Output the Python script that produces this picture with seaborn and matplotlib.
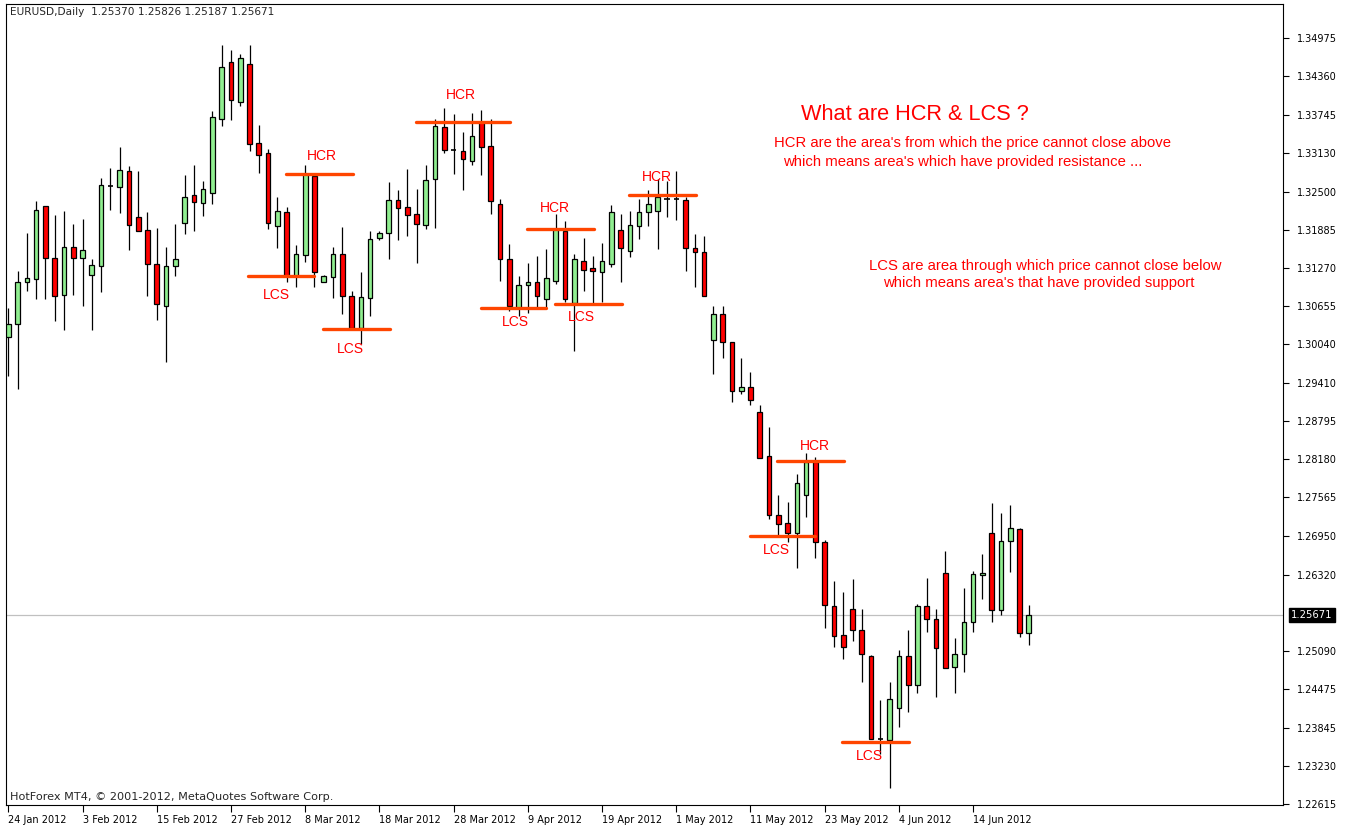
import numpy as np
import matplotlib
matplotlib.use("Agg")
import matplotlib.pyplot as plt
import seaborn as sns

# EURUSD daily candles, 24 Jan 2012 - 22 Jun 2012
opens = [1.3015, 1.3037, 1.3105, 1.3109, 1.3227, 1.3143, 1.3083, 1.3160, 1.3143, 1.3116,
         1.3130, 1.3259, 1.3257, 1.3284, 1.3209, 1.3188, 1.3133, 1.3066, 1.3130, 1.3199,
         1.3245, 1.3231, 1.3248, 1.3368, 1.3460, 1.3394, 1.3456, 1.3328, 1.3312, 1.3195,
         1.3217, 1.3114, 1.3148, 1.3275, 1.3105, 1.3113, 1.3149, 1.3082, 1.3030, 1.3079,
         1.3175, 1.3183, 1.3237, 1.3225, 1.3214, 1.3197, 1.3270, 1.3355, 1.3317, 1.3316,
         1.3300, 1.3362, 1.3323, 1.3230, 1.3141, 1.3063, 1.3100, 1.3105, 1.3077, 1.3106,
         1.3187, 1.3070, 1.3138, 1.3127, 1.3120, 1.3133, 1.3188, 1.3155, 1.3194, 1.3218,
         1.3219, 1.3238, 1.3238, 1.3237, 1.3159, 1.3152, 1.3010, 1.3052, 1.3007, 1.2929,
         1.2935, 1.2894, 1.2823, 1.2728, 1.2716, 1.2699, 1.2761, 1.2813, 1.2685, 1.2581,
         1.2534, 1.2576, 1.2542, 1.2501, 1.2366, 1.2365, 1.2416, 1.2500, 1.2453, 1.2581,
         1.2561, 1.2635, 1.2483, 1.2504, 1.2556, 1.2631, 1.2699, 1.2575, 1.2686, 1.2706,
         1.25370]
highs = [1.3063, 1.3122, 1.3184, 1.3235, 1.3227, 1.3212, 1.3219, 1.3198, 1.3206, 1.3142,
         1.3272, 1.3289, 1.3322, 1.3292, 1.3284, 1.3217, 1.3191, 1.3160, 1.3198, 1.3277,
         1.3293, 1.3268, 1.3380, 1.3487, 1.3479, 1.3472, 1.3487, 1.3357, 1.3319, 1.3241,
         1.3225, 1.3164, 1.3293, 1.3278, 1.3115, 1.3160, 1.3193, 1.3090, 1.3120, 1.3187,
         1.3186, 1.3265, 1.3252, 1.3287, 1.3254, 1.3293, 1.3368, 1.3385, 1.3375, 1.3347,
         1.3377, 1.3382, 1.3368, 1.3239, 1.3165, 1.3114, 1.3135, 1.3146, 1.3157, 1.3214,
         1.3203, 1.3149, 1.3175, 1.3147, 1.3167, 1.3228, 1.3214, 1.3219, 1.3238, 1.3252,
         1.3270, 1.3268, 1.3284, 1.3241, 1.3181, 1.3179, 1.3066, 1.3066, 1.3007, 1.2981,
         1.2959, 1.2905, 1.2870, 1.2760, 1.2749, 1.2795, 1.2828, 1.2822, 1.2687, 1.2621,
         1.2604, 1.2625, 1.2576, 1.2502, 1.2429, 1.2459, 1.2511, 1.2542, 1.2585, 1.2626,
         1.2576, 1.2670, 1.2529, 1.2611, 1.2638, 1.2665, 1.2748, 1.2732, 1.2745, 1.2707,
         1.25826]
lows = [1.2953, 1.2932, 1.3090, 1.3077, 1.3077, 1.3042, 1.3026, 1.3084, 1.3066, 1.3026,
        1.3088, 1.3221, 1.3216, 1.3156, 1.3186, 1.3081, 1.3043, 1.2975, 1.3114, 1.3182,
        1.3186, 1.3210, 1.3230, 1.3356, 1.3366, 1.3388, 1.3315, 1.3281, 1.3189, 1.3159,
        1.3104, 1.3096, 1.3136, 1.3096, 1.3104, 1.3078, 1.3053, 1.3028, 1.3004, 1.3049,
        1.3172, 1.3141, 1.3172, 1.3179, 1.3135, 1.3190, 1.3191, 1.3313, 1.3278, 1.3252,
        1.3293, 1.3277, 1.3214, 1.3106, 1.3058, 1.3050, 1.3054, 1.3063, 1.3063, 1.3101,
        1.3072, 1.2993, 1.3090, 1.3069, 1.3072, 1.3128, 1.3104, 1.3144, 1.3174, 1.3195,
        1.3157, 1.3209, 1.3204, 1.3122, 1.3096, 1.3081, 1.2956, 1.2981, 1.2910, 1.2924,
        1.2905, 1.2820, 1.2721, 1.2695, 1.2685, 1.2643, 1.2725, 1.2658, 1.2545, 1.2515,
        1.2496, 1.2524, 1.2459, 1.2366, 1.2343, 1.2288, 1.2386, 1.2410, 1.2440, 1.2539,
        1.2434, 1.2481, 1.2441, 1.2474, 1.2540, 1.2592, 1.2555, 1.2567, 1.2636, 1.2531,
        1.25187]
closes = [1.3037, 1.3105, 1.3110, 1.3220, 1.3143, 1.3081, 1.3160, 1.3143, 1.3156, 1.3131,
          1.3261, 1.3259, 1.3285, 1.3197, 1.3187, 1.3133, 1.3068, 1.3130, 1.3141, 1.3242,
          1.3234, 1.3254, 1.3370, 1.3451, 1.3398, 1.3466, 1.3327, 1.3310, 1.3199, 1.3219,
          1.3114, 1.3149, 1.3278, 1.3121, 1.3114, 1.3149, 1.3081, 1.3030, 1.3080, 1.3174,
          1.3183, 1.3237, 1.3224, 1.3212, 1.3198, 1.3269, 1.3356, 1.3318, 1.3317, 1.3303,
          1.3340, 1.3322, 1.3235, 1.3141, 1.3066, 1.3099, 1.3105, 1.3082, 1.3110, 1.3190,
          1.3077, 1.3142, 1.3124, 1.3122, 1.3138, 1.3217, 1.3159, 1.3196, 1.3218, 1.3230,
          1.3242, 1.3238, 1.3238, 1.3159, 1.3152, 1.3081, 1.3052, 1.3007, 1.2929, 1.2935,
          1.2914, 1.2820, 1.2728, 1.2714, 1.2699, 1.2780, 1.2813, 1.2684, 1.2583, 1.2533,
          1.2515, 1.2542, 1.2503, 1.2367, 1.2366, 1.2431, 1.2500, 1.2453, 1.2581, 1.2560,
          1.2513, 1.2481, 1.2504, 1.2556, 1.2633, 1.2635, 1.2575, 1.2686, 1.2707, 1.2538,
          1.25671]

date_labels = ["24 Jan 2012", "3 Feb 2012", "15 Feb 2012", "27 Feb 2012", "8 Mar 2012",
               "18 Mar 2012", "28 Mar 2012", "9 Apr 2012", "19 Apr 2012", "1 May 2012",
               "11 May 2012", "23 May 2012", "4 Jun 2012", "14 Jun 2012"]
price_ticks = [1.34975, 1.34360, 1.33745, 1.33130, 1.32500, 1.31885, 1.31270, 1.30655,
               1.30040, 1.29410, 1.28795, 1.28180, 1.27565, 1.26950, 1.26320, 1.25090,
               1.24475, 1.23845, 1.23230, 1.22615]
last_price = 1.25671

# hand drawn HCR / LCS levels (bar index from, bar index to, price)
level_kind = ["HCR", "LCS", "LCS", "HCR", "LCS", "HCR", "LCS", "HCR", "LCS", "HCR", "LCS"]
level_start = [29.9, 25.8, 33.9, 43.9, 50.9, 55.9, 58.9, 66.9, 79.9, 82.9, 89.9]
level_end = [37.1, 33.0, 41.1, 54.1, 58.0, 63.1, 66.1, 74.1, 87.0, 90.1, 97.1]
level_price = [1.3279, 1.3114, 1.3028, 1.3362, 1.3063, 1.3190, 1.3069, 1.3245,
               1.2695, 1.2815, 1.2362]
label_shift = [(3, 18), (-5, -19), (-6, -20), (-2, 27), (2, -14), (-5, 21), (-7, -13),
               (-5, 18), (-6, -14), (4, 15), (-6, -14)]

sns.set_theme(style="ticks")
plt.rcParams['font.family'] = ['DejaVu Sans']

W, H = 1350, 827
fig = plt.figure(figsize=(W / 100, H / 100), dpi=100)
ax = fig.add_axes([6 / W, 1 - 805 / H, (1283 - 6) / W, (805 - 4) / H])

o = np.array(opens)
h = np.array(highs)
l = np.array(lows)
c = np.array(closes)
x = np.arange(len(o))
up = c > o
down = c < o
flat = c == o

ax.axhline(last_price, color="#c0c0c0", lw=0.9, zorder=1)
ax.vlines(x, l, h, color="black", lw=0.9, zorder=2)
ax.bar(x[up], (c - o)[up], bottom=o[up], width=0.5, color="#90ee90",
       edgecolor="black", linewidth=0.9, zorder=3)
ax.bar(x[down], (o - c)[down], bottom=c[down], width=0.5, color="#ff0000",
       edgecolor="black", linewidth=0.9, zorder=3)
ax.hlines(c[flat], x[flat] - 0.28, x[flat] + 0.28, color="black", lw=1.2, zorder=3)

for kind, x0, x1, lev, (dx, dy) in zip(level_kind, level_start, level_end,
                                        level_price, label_shift):
    ax.plot([x0, x1], [lev, lev], color="#ff4500", lw=2.4, zorder=4,
            solid_capstyle="round")
    ax.annotate(kind, ((x0 + x1) / 2, lev), xytext=(dx, dy), textcoords="offset pixels",
                ha="center", va="center", color="#ff0000", fontsize=10,
                family=["Liberation Sans"], zorder=5)

ax.set_xlim(-0.25, 137.4)
ax.set_ylim(1.2260, 1.3553)

ax.set_xticks(np.arange(len(date_labels)) * 8)
ax.set_xticklabels(date_labels, ha="left")
ax.yaxis.tick_right()
ax.set_yticks(price_ticks)
ax.set_yticklabels([f"{p:.5f}" for p in price_ticks])
ax.tick_params(axis="x", direction="out", length=5, width=0.8, pad=2, labelsize=7,
               colors="black")
ax.tick_params(axis="y", direction="out", length=4, width=0.8, pad=6, labelsize=7,
               colors="black")
for s in ax.spines.values():
    s.set_color("black")
    s.set_linewidth(0.8)

ax.annotate(f"{last_price:.5f}", (1.0, last_price), xycoords=("axes fraction", "data"),
            xytext=(8, 0), textcoords="offset pixels", ha="left", va="center",
            color="white", fontsize=7.2,
            bbox=dict(boxstyle="square,pad=0.2", fc="black", ec="black"))

def px(xp, yp):
    return xp / W, 1 - yp / H

fig.text(*px(10, 12), "EURUSD,Daily  1.25370 1.25826 1.25187 1.25671", fontsize=7.6,
         va="center", ha="left")
fig.text(*px(10, 797), "HotForex MT4, \u00a9 2001-2012, MetaQuotes Software Corp.",
         fontsize=8.1, va="center", ha="left")

red_font = ["Liberation Sans"]
fig.text(*px(801, 120), "What are HCR & LCS ?", fontsize=15.7, color="#ff0000",
         family=red_font, va="baseline")
fig.text(*px(774, 147.3), "HCR are the area's from which the price cannot close above",
         fontsize=10.7, color="#ff0000", family=red_font, va="baseline")
fig.text(*px(782.7, 166), "which means area's which have provided resistance ...",
         fontsize=10.7, color="#ff0000", family=red_font, va="baseline")
fig.text(*px(869.3, 270), "LCS are area through which price cannot close below",
         fontsize=10.7, color="#ff0000", family=red_font, va="baseline")
fig.text(*px(882.7, 287.3), "which means area's that have provided support",
         fontsize=10.7, color="#ff0000", family=red_font, va="baseline")

fig.savefig("out.png", dpi=100, facecolor="white")
